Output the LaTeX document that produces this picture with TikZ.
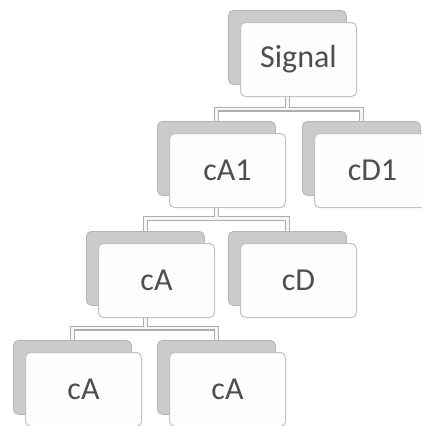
\documentclass[tikz,border=0pt]{standalone}
\usepackage{fontspec}
\setmainfont{Carlito}
\usetikzlibrary{calc}

\definecolor{backfill}{HTML}{CBCBCB}
\definecolor{backline}{HTML}{B4B4B4}
\definecolor{frontfill}{HTML}{FDFDFD}
\definecolor{frontline}{HTML}{C2C2C2}
\definecolor{labeltext}{HTML}{4E4E4E}
\definecolor{busline}{HTML}{AEAEAE}
\definecolor{businner}{HTML}{F6F6F6}

\tikzset{
  backbox/.style={draw=backline, fill=backfill, line width=0.8pt,
    rounded corners=5pt, minimum width=118pt, minimum height=74pt,
    inner sep=0pt, anchor=north west},
  frontbox/.style={draw=frontline, fill=frontfill, line width=1pt,
    rounded corners=5pt, minimum width=116pt, minimum height=74pt,
    inner sep=0pt, anchor=north west, text=labeltext,
    font=\fontsize{32}{38}\selectfont},
}

% a stacked pair of cards: grey card behind, white card with the label in front
\newcommand\layerbox[4]{%
  \node[backbox] (#1B) at (#2,#3) {};
  \node[frontbox] (#1F) at (#2+12,#3+12) {#4};
}

\begin{document}
\begin{tikzpicture}[x=1pt,y=-1pt]
  \useasboundingbox (0,0) rectangle (422,426);

  \layerbox{sig}{228}{10}{Signal}
  \layerbox{aone}{157}{121}{cA1}
  \layerbox{done}{302}{121}{cD1}
  \layerbox{atwo}{86}{231}{cA}
  \layerbox{dtwo}{228}{231}{cD}
  \layerbox{athl}{13}{340}{cA}
  \layerbox{athr}{157}{340}{cA}

  \coordinate (busone) at (0,109);
  \coordinate (bustwo) at (0,218.5);
  \coordinate (busthree) at (0,328);

  % hollow connector bars: outline pass first, then the light core
  \foreach \w/\c in {5pt/busline, 2.4pt/businner}{
    \draw[line width=\w, color=\c, line join=miter]
      (sigB.south |- sigF.south) -- (sigB.south |- busone)
      (aoneB.north) -- (aoneB.north |- busone) -- (doneB.north |- busone) -- (doneB.north);
    \draw[line width=\w, color=\c, line join=miter]
      (aoneB.south |- aoneF.south) -- (aoneB.south |- bustwo)
      (atwoB.north) -- (atwoB.north |- bustwo) -- (dtwoB.north |- bustwo) -- (dtwoB.north);
    \draw[line width=\w, color=\c, line join=miter]
      (atwoB.south |- atwoF.south) -- (atwoB.south |- busthree)
      (athlB.north) -- (athlB.north |- busthree) -- (athrB.north |- busthree) -- (athrB.north);
  }
\end{tikzpicture}
\end{document}
